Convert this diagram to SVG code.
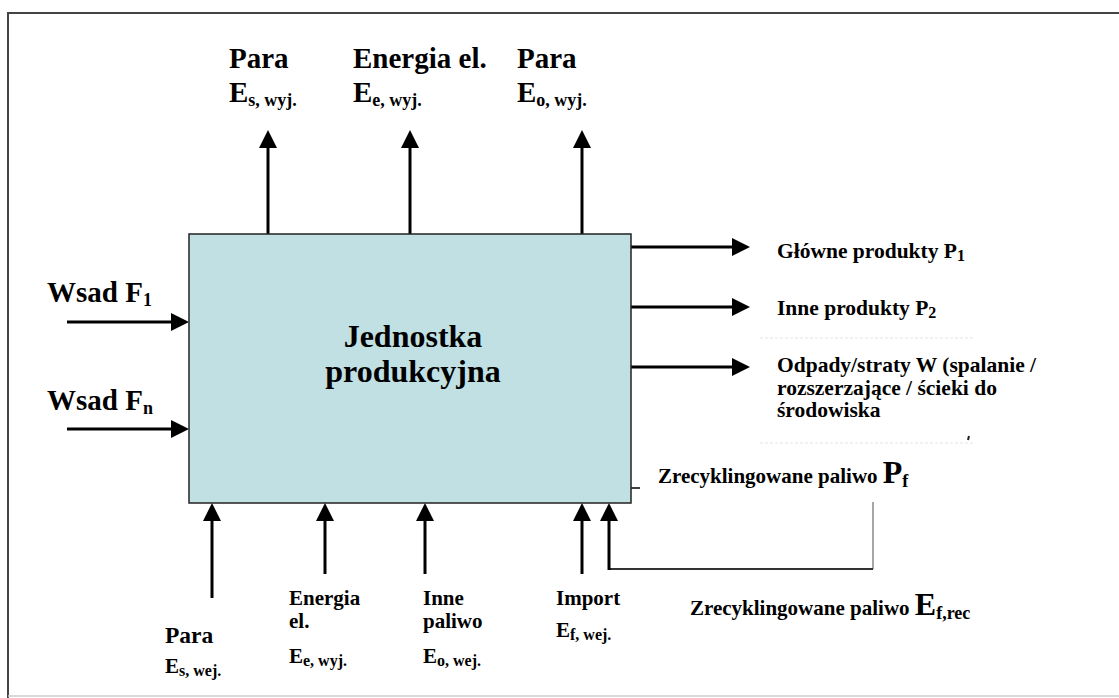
<svg xmlns="http://www.w3.org/2000/svg" width="1119" height="698" viewBox="0 0 1119 698">
  <style>
    text { font-family: "Liberation Serif", "Times New Roman", serif; font-weight: bold; fill: #000; }
    .f29 { font-size: 29px; }
    .f22 { font-size: 21.5px; }
    .f21 { font-size: 21px; }
    .f23 { font-size: 23.5px; }
    .big { font-size: 32px; }
    .s18 { font-size: 18px; }
    .s16 { font-size: 16px; }
    .arrow { stroke: #000; stroke-width: 3; fill: none; marker-end: url(#head); }
  </style>
  <defs>
    <marker id="head" markerUnits="userSpaceOnUse" markerWidth="18" markerHeight="18" refX="12" refY="9" orient="auto">
      <path d="M0,0 L18,9 L0,18 Z" fill="#000"/>
    </marker>
  </defs>

  <rect width="1119" height="698" fill="#fff"/>

  <!-- outer frame -->
  <g id="frame">
    <line x1="8" y1="13" x2="1119" y2="13" stroke="#444" stroke-width="2"/>
    <line x1="8" y1="12" x2="8" y2="698" stroke="#444" stroke-width="2"/>
    <line x1="8" y1="696" x2="1119" y2="696" stroke="#ccc" stroke-width="1.5"/>
  </g>

  <!-- connectors -->
  <g id="connectors">
    <!-- outputs at top -->
    <line class="arrow" x1="268" y1="234" x2="268" y2="136"/>
    <line class="arrow" x1="410" y1="234" x2="410" y2="136"/>
    <line class="arrow" x1="582" y1="234" x2="582" y2="136"/>
    <!-- feed inputs -->
    <line class="arrow" x1="67" y1="322" x2="183" y2="322"/>
    <line class="arrow" x1="67" y1="429" x2="183" y2="429"/>
    <!-- products / waste -->
    <line class="arrow" x1="631" y1="247" x2="744" y2="247"/>
    <line class="arrow" x1="631" y1="307" x2="744" y2="307"/>
    <line class="arrow" x1="631" y1="367" x2="744" y2="367"/>
    <!-- energy inputs at bottom -->
    <line class="arrow" x1="212" y1="598" x2="212" y2="509"/>
    <line class="arrow" x1="325" y1="574" x2="325" y2="509"/>
    <line class="arrow" x1="425" y1="574" x2="425" y2="509"/>
    <line class="arrow" x1="582" y1="574" x2="582" y2="509"/>
    <!-- recycled fuel loop -->
    <line x1="631" y1="488" x2="640" y2="488" stroke="#000" stroke-width="1.5"/>
    <line x1="873" y1="502" x2="873" y2="569" stroke="#888" stroke-width="1.5"/>
    <line x1="873" y1="569" x2="609" y2="569" stroke="#333" stroke-width="2"/>
    <line class="arrow" x1="609" y1="570" x2="609" y2="509"/>
  </g>

  <!-- central production unit -->
  <g id="unit">
    <rect x="189" y="234" width="442" height="269" fill="#c0e0e3" stroke="#222" stroke-width="1.5"/>
    <text class="big" x="413" y="347" text-anchor="middle">Jednostka</text>
    <text class="big" x="413" y="382" text-anchor="middle">produkcyjna</text>
  </g>

  <!-- top outputs -->
  <g id="out-steam-s">
    <text class="f29" x="229" y="68">Para</text>
    <text class="f29" x="229" y="102">E<tspan class="s18" dy="4">s, wyj.</tspan></text>
  </g>
  <g id="out-electricity">
    <text class="f29" x="353" y="68">Energia el.</text>
    <text class="f29" x="353" y="102">E<tspan class="s18" dy="4">e, wyj.</tspan></text>
  </g>
  <g id="out-steam-o">
    <text class="f29" x="517" y="68">Para</text>
    <text class="f29" x="517" y="102">E<tspan class="s18" dy="4">o, wyj.</tspan></text>
  </g>

  <!-- feeds -->
  <g id="feed-1">
    <text class="f29" x="47" y="302">Wsad F<tspan class="s18" dy="4">1</tspan></text>
  </g>
  <g id="feed-n">
    <text class="f29" x="47" y="410">Wsad F<tspan class="s18" dy="4">n</tspan></text>
  </g>

  <!-- products -->
  <g id="product-main">
    <text class="f22" x="777" y="258">Główne produkty P<tspan class="s16" dy="3">1</tspan></text>
  </g>
  <g id="product-other">
    <text class="f22" x="777" y="315">Inne produkty P<tspan class="s16" dy="3">2</tspan></text>
  </g>
  <g id="waste">
    <line x1="760" y1="338" x2="975" y2="338" stroke="#eeeeee" stroke-width="1.5" stroke-dasharray="3 2"/>
    <line x1="760" y1="443" x2="975" y2="443" stroke="#eeeeee" stroke-width="1.5" stroke-dasharray="3 2"/>
    <line x1="969" y1="436" x2="968" y2="440" stroke="#222" stroke-width="2"/>
    <text class="f22" x="777" y="372">Odpady/straty W (spalanie /</text>
    <text class="f22" x="777" y="394.5">rozszerzające / ścieki do</text>
    <text class="f22" x="777" y="417">środowiska</text>
  </g>

  <!-- recycled fuel -->
  <g id="recycled-out">
    <text class="f21" x="658" y="483">Zrecyklingowane paliwo <tspan class="big">P</tspan><tspan class="s18" dy="4">f</tspan></text>
  </g>
  <g id="recycled-in">
    <text class="f21" x="690" y="615">Zrecyklingowane paliwo <tspan class="big">E</tspan><tspan class="s18" dy="4">f,rec</tspan></text>
  </g>

  <!-- bottom inputs -->
  <g id="in-steam">
    <text class="f23" x="165" y="643">Para</text>
    <text class="f21" x="165" y="673">E<tspan class="s16" dy="3">s, wej.</tspan></text>
  </g>
  <g id="in-electricity">
    <text class="f21" x="289" y="605">Energia</text>
    <text class="f21" x="289" y="628">el.</text>
    <text class="f21" x="289" y="663">E<tspan class="s16" dy="3">e, wyj.</tspan></text>
  </g>
  <g id="in-other-fuel">
    <text class="f21" x="423" y="605">Inne</text>
    <text class="f21" x="423" y="628">paliwo</text>
    <text class="f21" x="423" y="663">E<tspan class="s16" dy="3">o, wej.</tspan></text>
  </g>
  <g id="in-import">
    <text class="f21" x="556" y="605">Import</text>
    <text class="f21" x="556" y="637">E<tspan class="s16" dy="3">f, wej.</tspan></text>
  </g>
</svg>
